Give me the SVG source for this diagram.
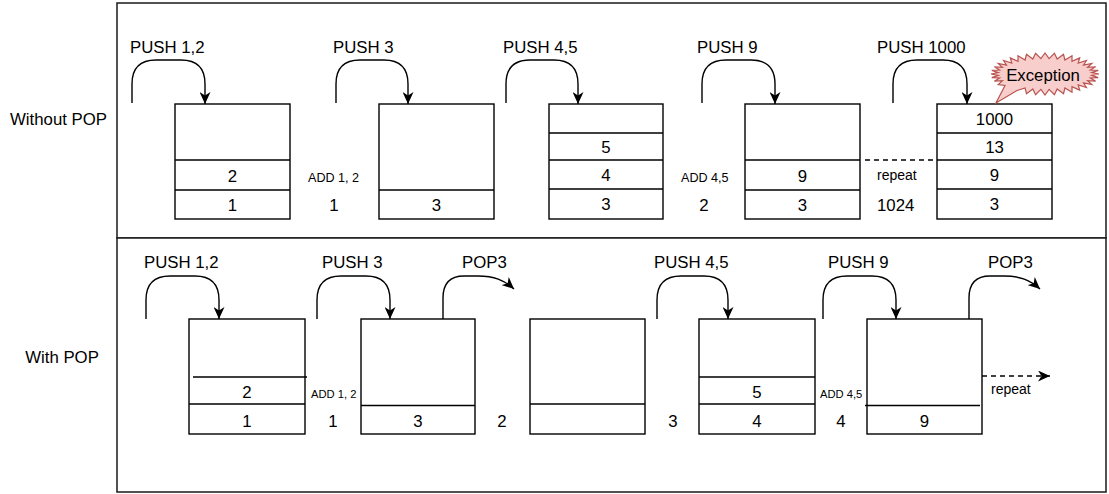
<svg xmlns="http://www.w3.org/2000/svg" width="1109" height="494" viewBox="0 0 1109 494">
  <defs>
    <marker id="arrow" viewBox="0 0 12 11" refX="12" refY="5.5" markerWidth="12" markerHeight="11" markerUnits="userSpaceOnUse" orient="auto">
      <path d="M0,0 L12,5.5 L0,11 L3.5,5.5 Z" fill="#000"/>
    </marker>
  </defs>
  <style>
    text { font-family: "Liberation Sans", Arial, Helvetica, sans-serif; fill: #000; }
    .lbl { font-size: 16.8px; }
    .num { font-size: 16.8px; text-anchor: middle; }
    .add { font-size: 12.6px; }
    .adds { font-size: 11.2px; }
    .rep { font-size: 14px; }
    .frame { fill: #fff; stroke: #1a1a1a; stroke-width: 1.5; }
    .box { fill: #fff; stroke: #000; stroke-width: 1.4; }
    .sep { stroke: #000; stroke-width: 1.4; fill: none; }
    .flow { fill: none; stroke: #000; stroke-width: 1.4; marker-end: url(#arrow); }
    .dash { fill: none; stroke: #000; stroke-width: 1.4; stroke-dasharray: 5 4; }
  </style>

  <!-- panels -->
  <g id="panel-top">
    <rect class="frame" x="117" y="3" width="989" height="235"/>
    <text class="lbl" x="58.5" y="124.5" text-anchor="middle">Without POP</text>
  </g>
  <g id="panel-bottom">
    <rect class="frame" x="117" y="238" width="989" height="254"/>
    <text class="lbl" x="62" y="363" text-anchor="middle">With POP</text>
  </g>

  <!-- upper row: stack snapshots without POP -->
  <g id="stack-a1">
    <rect class="box" x="175" y="104" width="115" height="115"/>
    <path class="sep" d="M175,160 H290 M175,190 H290"/>
    <text class="num" x="232.5" y="182">2</text>
    <text class="num" x="232.5" y="210.5">1</text>
  </g>
  <g id="stack-a2">
    <rect class="box" x="379" y="104" width="115" height="115"/>
    <path class="sep" d="M379,190 H494"/>
    <text class="num" x="436.5" y="210.5">3</text>
  </g>
  <g id="stack-a3">
    <rect class="box" x="549" y="104" width="114" height="115"/>
    <path class="sep" d="M549,133 H663 M549,160 H663 M549,189 H663"/>
    <text class="num" x="606" y="152.5">5</text>
    <text class="num" x="606" y="180.5">4</text>
    <text class="num" x="606" y="210">3</text>
  </g>
  <g id="stack-a4">
    <rect class="box" x="745" y="104" width="115" height="115"/>
    <path class="sep" d="M745,160 H860 M745,190 H860"/>
    <text class="num" x="802.5" y="181.5">9</text>
    <text class="num" x="802.5" y="210.5">3</text>
  </g>
  <g id="stack-a5">
    <rect class="box" x="937" y="104" width="115" height="115"/>
    <path class="sep" d="M937,133 H1052 M937,160 H1052 M937,189 H1052"/>
    <text class="num" x="994.5" y="124.5">1000</text>
    <text class="num" x="994.5" y="152.5">13</text>
    <text class="num" x="994.5" y="180.5">9</text>
    <text class="num" x="994.5" y="210">3</text>
  </g>
  <g id="exception">
    <path fill="#f8cecc" stroke="#b85450" stroke-width="1.2" stroke-linejoin="miter" d="M1099,74 L1091.8,75.4 L1098.2,77.6 L1090.4,78 L1095.7,81.2 L1087.6,80.6 L1091.8,84.5 L1083.5,82.9 L1086.4,87.5 L1078.2,85 L1079.7,90.1 L1072,86.7 L1072,92.2 L1064.9,88 L1063.5,93.7 L1057.2,89 L1054.4,94.7 L1049.1,89.4 L1045,95 L1040.9,89.4 L1035.6,94.7 L1032.8,89 L1026.5,93.7 L1025.1,88 L1017,90.5 L996,103 L1005,85.5 L998.2,84.5 L1002.4,80.6 L994.3,81.2 L999.6,78 L991.8,77.6 L998.2,75.4 L991,74 L998.2,72.6 L991.8,70.4 L999.6,70 L994.3,66.8 L1002.4,67.4 L998.2,63.5 L1006.5,65.1 L1003.6,60.5 L1011.8,63 L1010.3,57.9 L1018,61.3 L1018,55.8 L1025.1,60 L1026.5,54.3 L1032.8,59 L1035.6,53.3 L1040.9,58.6 L1045,53 L1049.1,58.6 L1054.4,53.3 L1057.2,59 L1063.5,54.3 L1064.9,60 L1072,55.8 L1072,61.3 L1079.7,57.9 L1078.2,63 L1086.4,60.5 L1083.5,65.1 L1091.8,63.5 L1087.6,67.4 L1095.7,66.8 L1090.4,70 L1098.2,70.4 L1091.8,72.6 Z"/>
    <text class="lbl" x="1043" y="81" text-anchor="middle">Exception</text>
  </g>

  <!-- lower row: stack snapshots with POP -->
  <g id="stack-b1">
    <rect class="box" x="189" y="319" width="116" height="115"/>
    <path class="sep" d="M193,377 H307 M189,404 H305"/>
    <text class="num" x="247" y="398">2</text>
    <text class="num" x="247" y="427">1</text>
  </g>
  <g id="stack-b2">
    <rect class="box" x="361" y="319" width="114" height="115"/>
    <path class="sep" d="M361,405.5 H475"/>
    <text class="num" x="418" y="427">3</text>
  </g>
  <g id="stack-b3">
    <rect class="box" x="530" y="319" width="115" height="115"/>
    <path class="sep" d="M530,404 H645"/>
  </g>
  <g id="stack-b4">
    <rect class="box" x="699" y="319" width="116" height="115"/>
    <path class="sep" d="M699,377 H815 M699,404 H815"/>
    <text class="num" x="757" y="398">5</text>
    <text class="num" x="757" y="427">4</text>
  </g>
  <g id="stack-b5">
    <rect class="box" x="867" y="319" width="115" height="115"/>
    <path class="sep" d="M865,405.5 H980"/>
    <text class="num" x="924.5" y="427">9</text>
  </g>

  <!-- operation labels and intermediate values -->
  <g id="labels">
    <text class="lbl" x="130" y="53">PUSH 1,2</text>
    <text class="lbl" x="333" y="53">PUSH 3</text>
    <text class="lbl" x="503" y="53">PUSH 4,5</text>
    <text class="lbl" x="697" y="53">PUSH 9</text>
    <text class="lbl" x="877" y="53">PUSH 1000</text>
    <text class="add" x="308" y="181.5">ADD 1, 2</text>
    <text class="num" x="334" y="210.5">1</text>
    <text class="add" x="681" y="181.5">ADD 4,5</text>
    <text class="num" x="704" y="210.5">2</text>
    <text class="rep" x="877" y="180">repeat</text>
    <text class="lbl" x="877" y="210.5">1024</text>

    <text class="lbl" x="144" y="268">PUSH 1,2</text>
    <text class="lbl" x="322" y="268">PUSH 3</text>
    <text class="lbl" x="462" y="268">POP3</text>
    <text class="lbl" x="654" y="268">PUSH 4,5</text>
    <text class="lbl" x="828" y="268">PUSH 9</text>
    <text class="lbl" x="988" y="268">POP3</text>
    <text class="adds" x="311" y="398">ADD 1, 2</text>
    <text class="num" x="333" y="427">1</text>
    <text class="num" x="502" y="427">2</text>
    <text class="num" x="673" y="427">3</text>
    <text class="adds" x="820" y="398">ADD 4,5</text>
    <text class="num" x="841" y="427">4</text>
    <text class="rep" x="991" y="394">repeat</text>
  </g>

  <!-- connectors -->
  <g id="connectors">
    <path class="flow" d="M132,103 V84 C132,68 140,60 156,60 H181 C197,60 205,68 205,84 V104"/>
    <path class="flow" d="M336,103 V84 C336,68 344,60 360,60 H384 C400,60 408,68 408,84 V104"/>
    <path class="flow" d="M506,103 V84 C506,68 514,60 530,60 H554 C570,60 578,68 578,84 V104"/>
    <path class="flow" d="M702,103 V84 C702,68 710,60 726,60 H751 C767,60 775,68 775,84 V104"/>
    <path class="flow" d="M893,103 V84 C893,68 901,60 917,60 H943 C959,60 967,68 967,84 V104"/>
    <path class="dash" d="M865,160 H937"/>

    <path class="flow" d="M146,319 V300 C146,284 154,276 170,276 H195 C211,276 219,284 219,300 V319"/>
    <path class="flow" d="M317,319 V300 C317,284 325,276 341,276 H366 C382,276 390,284 390,300 V319"/>
    <path class="flow" d="M443,319 V298 C443,284 450,276 464,276 H478 C494,276 504,280 514,289"/>
    <path class="flow" d="M657,319 V300 C657,284 665,276 681,276 H704 C720,276 728,284 728,300 V319"/>
    <path class="flow" d="M823,319 V300 C823,284 831,276 847,276 H872 C888,276 896,284 896,300 V319"/>
    <path class="flow" d="M969,319 V298 C969,284 976,276 990,276 H1004 C1020,276 1030,280 1040,289"/>
    <path class="dash" d="M982,376 H1050" style="marker-end:url(#arrow)"/>
  </g>
</svg>
